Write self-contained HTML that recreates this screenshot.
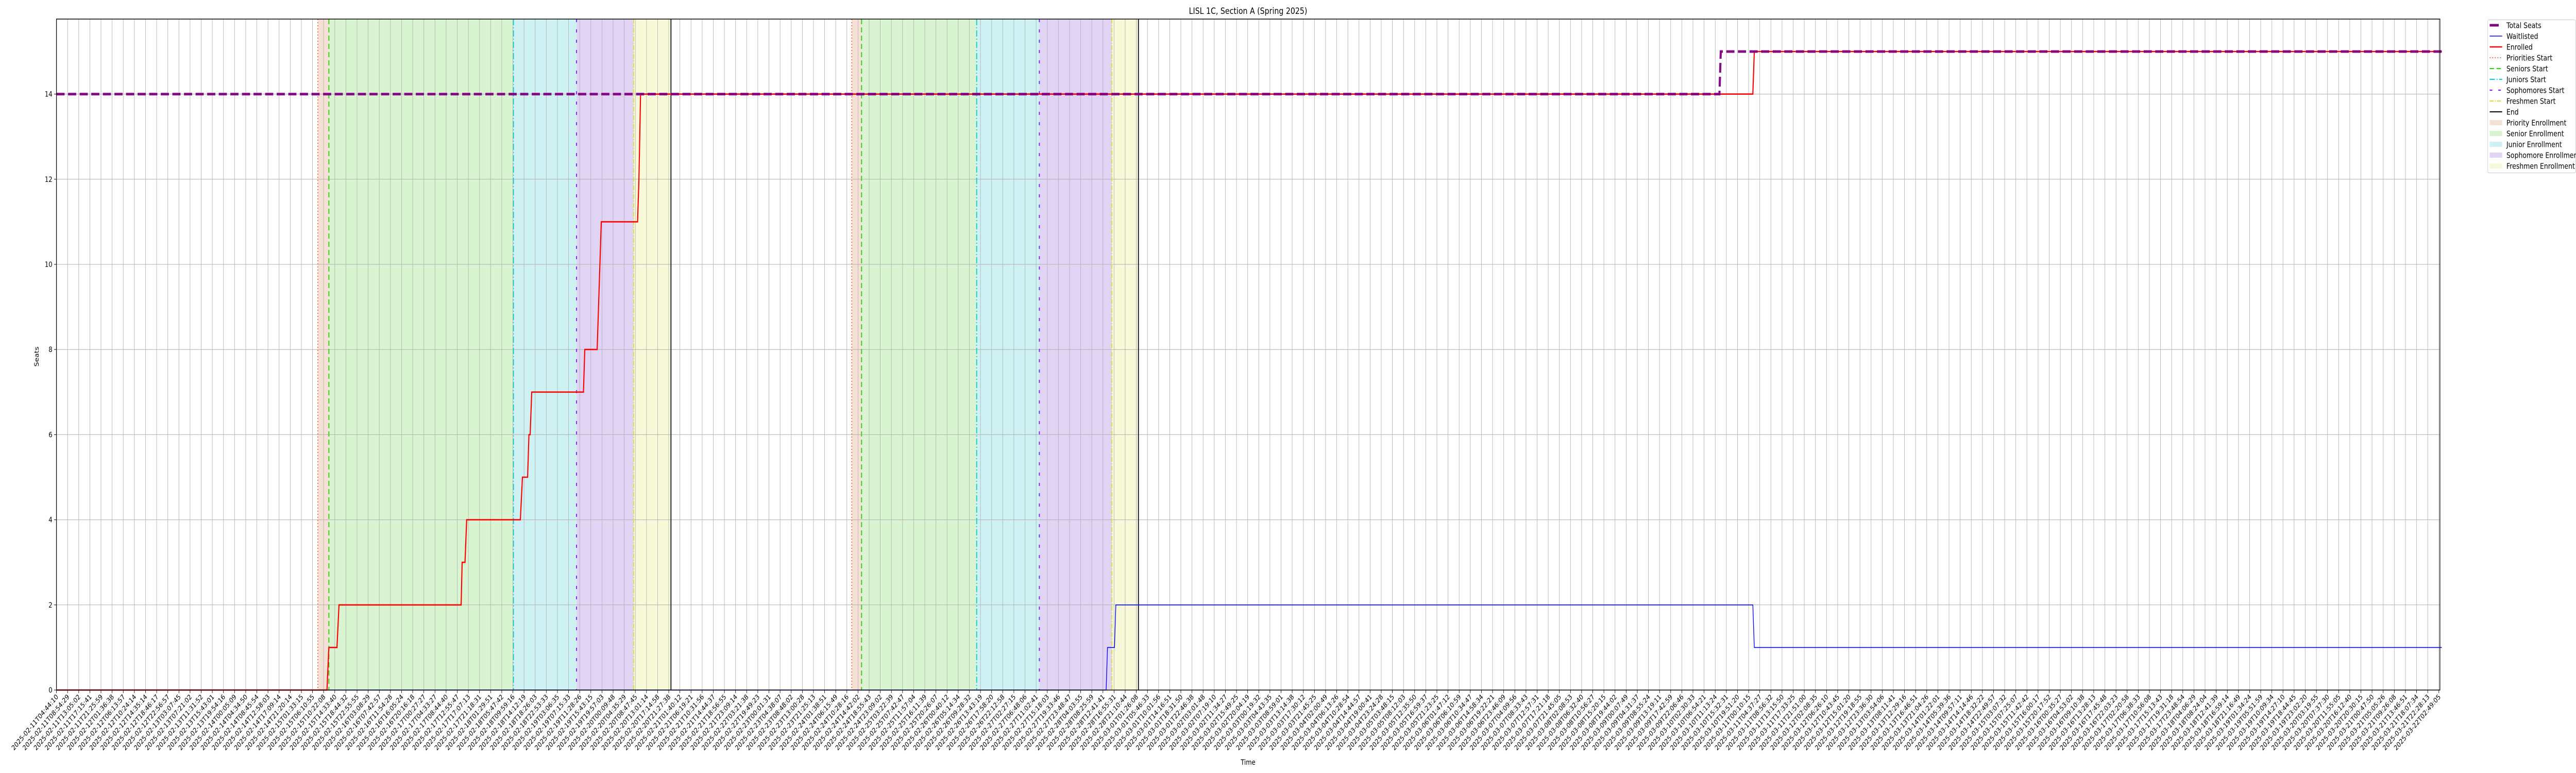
<!DOCTYPE html>
<html><head><meta charset="utf-8"><style>
html,body{margin:0;padding:0;background:#fff;overflow:hidden}
svg{display:block;overflow:hidden;width:100vw;height:100vh}
text{font-family:"DejaVu Sans","Liberation Sans",sans-serif;fill:#000}
</style></head><body>
<svg id="chart" viewBox="0 0 6000 1500" preserveAspectRatio="none" xmlns="http://www.w3.org/2000/svg">
<g id="bands"></g>
<g id="grid"></g>
<g id="vlines"></g>
<g id="series"></g>
<rect x="131.5" y="37" width="5551.5" height="1302" fill="none" stroke="#000" stroke-width="1.5"/>
<g id="axes"></g>
<text x="2907" y="27" font-size="17" text-anchor="middle">LISL 1C, Section A (Spring 2025)</text>
<text x="0" y="0" font-size="14" text-anchor="middle" transform="translate(90,692) rotate(-90)">Seats</text>
<text x="2907" y="1484" font-size="14" text-anchor="middle">Time</text>
<g id="legend"></g>
</svg>
<script>
const knownTickLabels = {
0:"2025-02-11T04:44:10",1:"2025-02-11T08:54:29",2:"2025-02-11T13:05:02",3:"2025-02-11T17:15:41",4:"2025-02-11T21:25:59",
5:"2025-02-12T01:36:38",6:"2025-02-12T06:13:57",7:"2025-02-12T10:24:14",8:"2025-02-12T14:35:14",9:"2025-02-12T18:46:17",
10:"2025-02-12T22:56:57",11:"2025-02-13T03:07:45",12:"2025-02-13T07:21:02",13:"2025-02-13T11:31:52",14:"2025-02-13T15:43:01",
15:"2025-02-13T19:54:16",16:"2025-02-14T00:05:09",17:"2025-02-14T04:34:50",18:"2025-02-14T08:45:54",19:"2025-02-14T12:58:03",
20:"2025-02-14T17:09:14",21:"2025-02-14T21:20:14",22:"2025-02-15T01:33:15",23:"2025-02-15T06:10:55",24:"2025-02-15T10:22:08",
25:"2025-02-15T14:33:40",26:"2025-02-15T18:44:32",27:"2025-02-15T22:55:55",28:"2025-02-16T03:08:29",29:"2025-02-16T07:42:57",
30:"2025-02-16T11:54:28",31:"2025-02-16T16:05:24",32:"2025-02-16T20:16:18",33:"2025-02-17T00:27:27",34:"2025-02-17T04:33:27",
35:"2025-02-17T08:44:40",36:"2025-02-17T12:55:47",37:"2025-02-17T17:07:13",38:"2025-02-17T21:18:31",39:"2025-02-18T01:29:51",
40:"2025-02-18T05:47:42",41:"2025-02-18T09:59:16",42:"2025-02-18T14:12:19",43:"2025-02-18T18:26:03",44:"2025-02-18T22:53:33",
45:"2025-02-19T03:06:35",46:"2025-02-19T07:15:33",47:"2025-02-19T11:28:26",48:"2025-02-19T15:43:15",49:"2025-02-19T19:57:03",
50:"2025-02-20T00:09:48",51:"2025-02-20T04:35:29",52:"2025-02-20T08:47:45",53:"2025-02-20T13:01:14",54:"2025-02-20T17:14:58",
55:"2025-02-20T21:27:38",56:"2025-02-21T01:40:12",57:"2025-02-21T06:19:21",58:"2025-02-21T10:31:56",59:"2025-02-21T14:44:37",
60:"2025-02-21T18:56:55",61:"2025-02-21T23:09:14",62:"2025-02-22T03:21:38",63:"2025-02-22T19:49:23",64:"2025-02-23T00:01:31",
65:"2025-02-23T04:38:07",66:"2025-02-23T08:48:02",67:"2025-02-23T13:00:28",68:"2025-02-23T21:25:13",69:"2025-02-24T01:38:51",
70:"2025-02-24T06:15:49",71:"2025-02-24T10:28:16",72:"2025-02-24T14:42:02",73:"2025-02-24T18:55:43",74:"2025-02-24T23:09:02",
75:"2025-02-25T03:22:39",76:"2025-02-25T07:42:47",77:"2025-02-25T11:57:04",78:"2025-02-25T16:11:39",79:"2025-02-25T20:26:07",
80:"2025-02-26T00:40:12",81:"2025-02-26T05:14:34",82:"2025-02-26T09:28:32",83:"2025-02-26T13:43:19",84:"2025-02-26T17:58:20",
85:"2025-02-26T22:12:58",86:"2025-02-27T02:27:15",87:"2025-02-27T06:48:06",88:"2025-02-27T11:02:41",89:"2025-02-27T15:18:03",
90:"2025-02-27T19:33:46",91:"2025-02-27T23:48:47",92:"2025-02-28T04:03:55",93:"2025-02-28T08:25:59",94:"2025-02-28T12:41:41",
95:"2025-02-28T16:55:31",96:"2025-02-28T21:10:44",97:"2025-03-01T01:26:08",98:"2025-03-01T05:46:33",99:"2025-03-01T10:01:56",
100:"2025-03-01T14:16:51",101:"2025-03-01T18:31:50",102:"2025-03-01T22:46:38",103:"2025-03-02T03:01:48",104:"2025-03-02T07:19:10",
105:"2025-03-02T11:34:27",106:"2025-03-02T15:49:25",107:"2025-03-02T20:04:19",108:"2025-03-03T00:19:32",109:"2025-03-03T04:43:35",
110:"2025-03-03T08:59:01",111:"2025-03-03T13:14:38",112:"2025-03-03T17:30:12",113:"2025-03-03T21:45:25",114:"2025-03-04T02:00:49",
115:"2025-03-04T06:13:26",116:"2025-03-04T10:28:54",117:"2025-03-04T14:44:57",118:"2025-03-04T19:00:41",
148:"2025-03-10T06:54:21",149:"2025-03-10T11:13:24",150:"2025-03-10T15:32:31",151:"2025-03-10T19:51:20",152:"2025-03-11T00:10:15",
153:"2025-03-11T04:37:27",154:"2025-03-11T08:56:32",155:"2025-03-11T13:15:50",
209:"2025-03-21T05:05:26",210:"2025-03-21T09:26:08",211:"2025-03-21T13:46:51",212:"2025-03-21T18:07:34",213:"2025-03-21T22:28:13",
214:"2025-03-22T02:49:05"};
const tickCount = 215;
const enrolledX = [0,24.30,24.47,25.20,25.38,36.35,36.44,36.70,36.85,41.67,41.86,42.32,42.44,42.55,42.69,47.34,47.46,48.57,48.94,52.20,52.32,52.47,152.38,152.51,214.27];
const enrolledY = [0,0,1,1,2,2,3,3,4,4,5,5,6,6,7,7,8,8,11,11,12,14,14,15,15];
const totalX = [0,149.38,149.50,214.27];
const totalY = [14,14,15,15];
const waitX = [0,94.29,94.41,95.04,95.16,152.38,152.51,214.27];
const waitY = [0,0,1,1,2,2,1,1];
const phaseNames = ["Priorities","Seniors","Juniors","Sophomores","Freshmen","End"];
const cycle1Starts = [23.47,24.47,41.05,46.72,51.85,55.20];
const cycle2Starts = [71.44,72.32,82.66,88.29,94.81,97.19];
const yTicks = [0,2,4,6,8,10,12,14];

const X0=131.5, STEP=25.93, Y0=1339, YS=82.6;
const xs = i => X0 + i*STEP;
const ys = v => Y0 - v*YS;
const NS="http://www.w3.org/2000/svg";
function mk(tag, attrs, parent){const e=document.createElementNS(NS,tag);for(const k in attrs)e.setAttribute(k,attrs[k]);parent.appendChild(e);return e;}

function pad(n){return String(n).padStart(2,"0");}
function parseT(s){return Date.UTC(+s.slice(0,4),+s.slice(5,7)-1,+s.slice(8,10),+s.slice(11,13),+s.slice(14,16),+s.slice(17,19));}
function fmt(ms){const d=new Date(ms);return d.getUTCFullYear()+"-"+pad(d.getUTCMonth()+1)+"-"+pad(d.getUTCDate())+"T"+pad(d.getUTCHours())+":"+pad(d.getUTCMinutes())+":"+pad(d.getUTCSeconds());}
const tickLabels=[];
{let last=0;for(let i=0;i<tickCount;i++){if(knownTickLabels[i]){tickLabels[i]=knownTickLabels[i];last=i;}else{let nxt=i;while(!knownTickLabels[nxt])nxt++;const a=parseT(knownTickLabels[last]),b=parseT(knownTickLabels[nxt]);tickLabels[i]=fmt(a+(b-a)*(i-last)/(nxt-last));}}}

const bands=document.getElementById("bands"),grid=document.getElementById("grid"),vl=document.getElementById("vlines"),ser=document.getElementById("series"),axes=document.getElementById("axes"),leg=document.getElementById("legend");
const bandColors=["#f5e0d5","#d9f4d1","#cef1f3","#e1d3f4","#f7f9d9"];
const lineColors=["#ee6633","#33cc11","#11cccc","#7722ee","#dddd33","#000000"];
const lineDash=["2,4","10,6","12,4,2,4","6,14","9,3,2,3",""];
const lineW=[2,2.2,2.2,2.2,2,2];

[cycle1Starts,cycle2Starts].forEach((cyc,ci)=>{
  for(let k=0;k<5;k++){
    const r=mk("rect",{x:xs(cyc[k]),y:37,width:xs(cyc[k+1])-xs(cyc[k]),height:1302,fill:bandColors[k]},bands);
    
    
  }
});
for(let i=0;i<tickCount;i++){
  const l=mk("line",{x1:xs(i),x2:xs(i),y1:37,y2:1339,stroke:"#b0b0b0","stroke-width":1},grid);
  
  
}
yTicks.forEach(v=>{
  const l=mk("line",{x1:131.5,x2:5683,y1:ys(v),y2:ys(v),stroke:"#b0b0b0","stroke-width":1},grid);
  
  
});
[cycle1Starts,cycle2Starts].forEach((cyc,ci)=>{
  cyc.forEach((v,k)=>{
    const a={x1:xs(v),x2:xs(v),y1:37,y2:1339,stroke:lineColors[k],"stroke-width":lineW[k]};
    if(lineDash[k])a["stroke-dasharray"]=lineDash[k];
    const l=mk("line",a,vl);
    
    
  });
});
function pts(X,Y){return X.map((x,i)=>xs(x).toFixed(1)+","+ys(Y[i]).toFixed(1)).join(" ");}
const wl=mk("polyline",{points:pts(waitX,waitY),fill:"none",stroke:"#0000ff","stroke-width":1.6},ser);


const en=mk("polyline",{points:pts(enrolledX,enrolledY),fill:"none",stroke:"#ff0000","stroke-width":2.6},ser);


const ts=mk("polyline",{points:pts(totalX,totalY),fill:"none",stroke:"#800080","stroke-width":5,"stroke-dasharray":"19,8","stroke-opacity":0.95},ser);



yTicks.forEach(v=>{
  mk("line",{x1:126,x2:131.5,y1:ys(v),y2:ys(v),stroke:"#000","stroke-width":1},axes);
  const t=mk("text",{x:122,y:ys(v)+5,"font-size":14,"text-anchor":"end"},axes);
  t.textContent=v;
  
  
});
for(let i=0;i<tickCount;i++){
  mk("line",{x1:xs(i),x2:xs(i),y1:1339,y2:1345,stroke:"#000","stroke-width":1},axes);
  const x=xs(i)+5,y=1353;
  const t=mk("text",{x:x,y:y,"font-size":13.5,"text-anchor":"end",transform:"rotate(-45 "+x+" "+y+")"},axes);
  t.textContent=tickLabels[i];
  
  
}

mk("rect",{x:5794.5,y:38.5,width:205,height:297,rx:3,fill:"#fff",stroke:"#cccccc","stroke-width":1},leg);
const legNames=["Total Seats","Waitlisted","Enrolled","Priorities Start","Seniors Start","Juniors Start","Sophomores Start","Freshmen Start","End","Priority Enrollment","Senior Enrollment","Junior Enrollment","Sophomore Enrollment","Freshmen Enrollment"];
legNames.forEach((n,k)=>{
  const y=49+k*21;
  const g=mk("g",{},leg);
  
  
  if(k===0) mk("line",{x1:5799,x2:5820,y1:y,y2:y,stroke:"#800080","stroke-width":5},g);
  else if(k===1) mk("line",{x1:5799,x2:5828,y1:y,y2:y,stroke:"#0000ff","stroke-width":1.6},g);
  else if(k===2) mk("line",{x1:5799,x2:5828,y1:y,y2:y,stroke:"#ff0000","stroke-width":2.6},g);
  else if(k<9){const j=k-3;const a={x1:5799,x2:5828,y1:y,y2:y,stroke:lineColors[j],"stroke-width":lineW[j]};if(lineDash[j])a["stroke-dasharray"]=lineDash[j];mk("line",a,g);}
  else mk("rect",{x:5799,y:y-5,width:29,height:10,fill:bandColors[k-9]},g);
  const t=mk("text",{x:5838,y:y+5.5,"font-size":15},g);
  t.textContent=n;
});
</script>
</body></html>
